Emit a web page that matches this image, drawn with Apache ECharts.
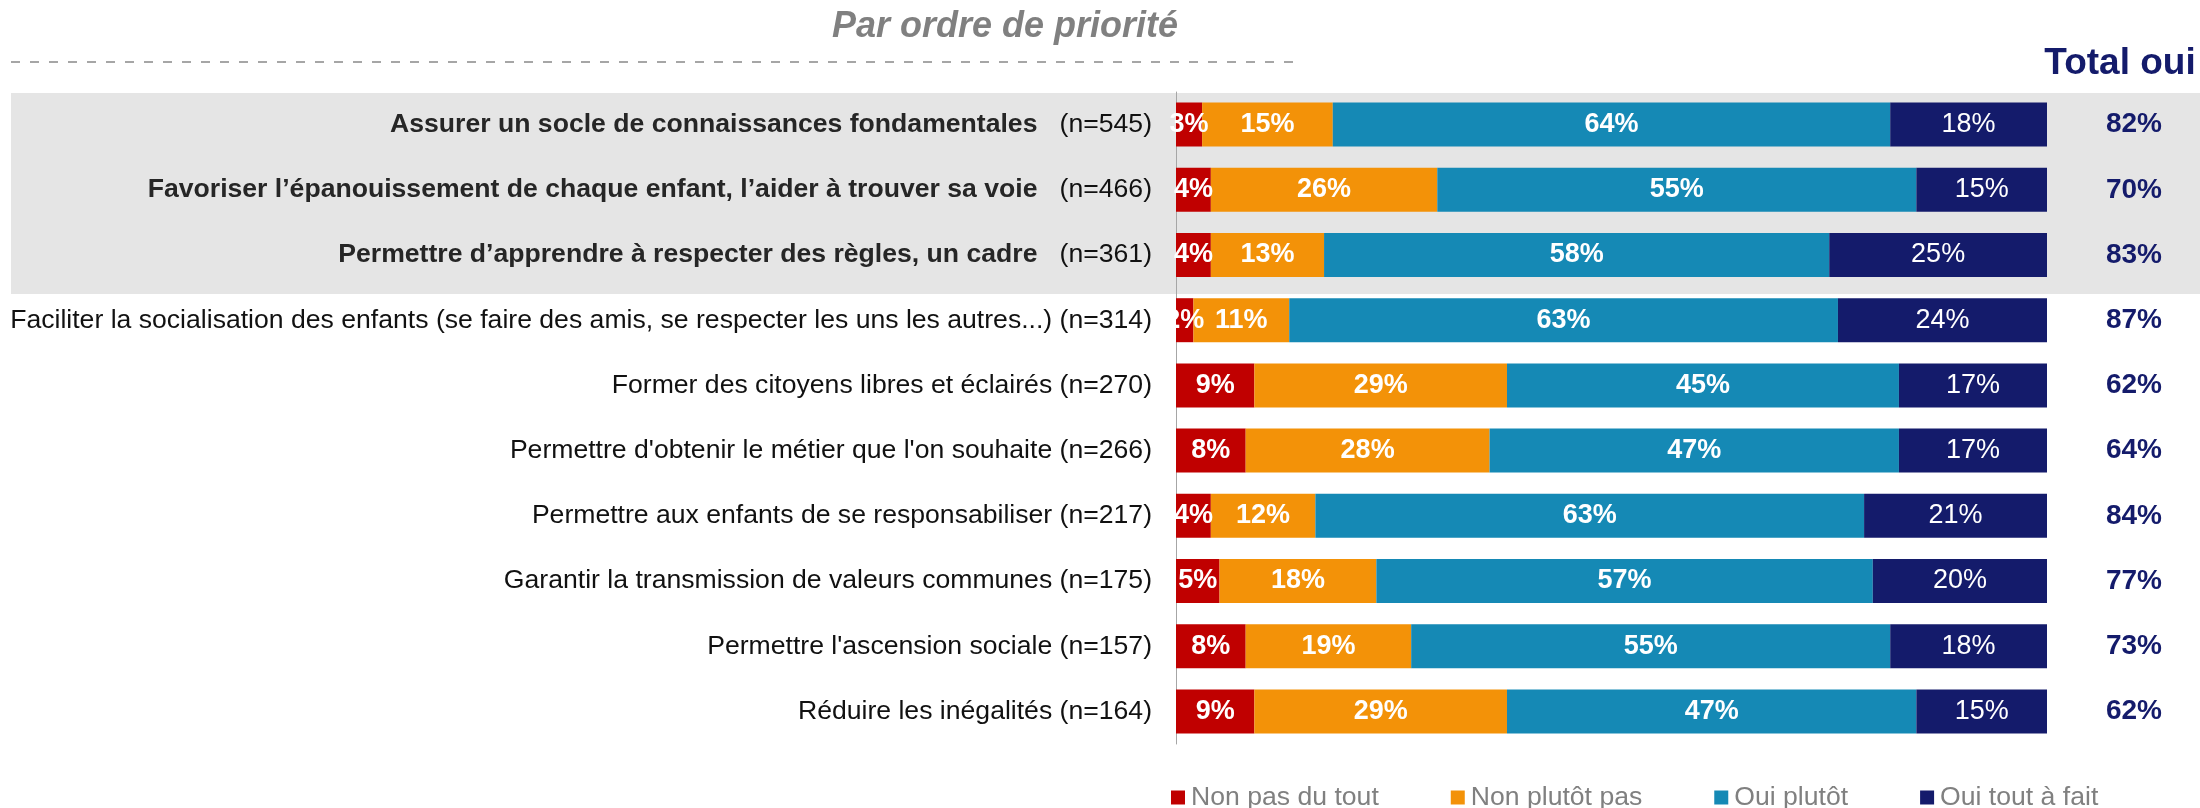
<!DOCTYPE html>
<html>
<head>
<meta charset="utf-8">
<script src="https://cdn.jsdelivr.net/npm/echarts@6/dist/echarts.min.js"></script>
<style>
html,body{margin:0;padding:0;background:#fff;}
#chart{width:2200px;height:808px;}
</style>
</head>
<body>
<div id="chart"></div>
<script>
// ---- Data ----
const categories = [
  "Assurer un socle de connaissances fondamentales",
  "Favoriser l’épanouissement de chaque enfant, l’aider à trouver sa voie",
  "Permettre d’apprendre à respecter des règles, un cadre",
  "Faciliter la socialisation des enfants (se faire des amis, se respecter les uns les autres...)",
  "Former des citoyens libres et éclairés",
  "Permettre d'obtenir le métier que l'on souhaite",
  "Permettre aux enfants de se responsabiliser",
  "Garantir la transmission de valeurs communes",
  "Permettre l'ascension sociale",
  "Réduire les inégalités"
];
const sampleSizes = [545, 466, 361, 314, 270, 266, 217, 175, 157, 164];
const priorityCount = 3;
const seriesNames = ["Non pas du tout", "Non plutôt pas", "Oui plutôt", "Oui tout à fait"];
const nonPasDuTout = [3, 4, 4, 2, 9, 8, 4, 5, 8, 9];
const nonPlutotPas = [15, 26, 13, 11, 29, 28, 12, 18, 19, 29];
const ouiPlutot = [64, 55, 58, 63, 45, 47, 63, 57, 55, 47];
const ouiToutAFait = [18, 15, 25, 24, 17, 17, 21, 20, 18, 15];
const totalOui = [82, 70, 83, 87, 62, 64, 84, 77, 73, 62];
const titleText = "Par ordre de priorité";
const totalTitle = "Total oui";

// ---- Styles ----
const FONT = "'Liberation Sans', Arial, sans-serif";
const colors = ["#C00000", "#F39208", "#1589B5", "#141B6B"];
const NAVY = "#141B6B";
const LABEL_SIZE = 26.6;

const values = [nonPasDuTout, nonPlutotPas, ouiPlutot, ouiToutAFait];

const chart = echarts.init(document.getElementById('chart'), null, {renderer: 'canvas'});

const series = values.map((arr, k) => ({
  name: seriesNames[k],
  type: 'bar',
  stack: 'total',
  barWidth: 44,
  data: arr,
  itemStyle: {color: colors[k]},
  label: {
    show: true,
    position: 'inside',
    formatter: '{c}%',
    color: '#fff',
    fontFamily: FONT,
    fontSize: 27,
    fontWeight: k === 3 ? 'normal' : 'bold'
  },
  emphasis: {disabled: true}
}));

const option = {
  animation: false,
  textStyle: {fontFamily: FONT},
  graphic: [
    {type: 'rect', z: -10, shape: {x: 11, y: 93, width: 2189, height: 201}, style: {fill: '#E5E5E5'}},
    {type: 'line', shape: {x1: 11, y1: 62, x2: 1298, y2: 62},
     style: {stroke: '#A6A6A6', lineWidth: 2, lineDash: [9, 10]}},
    {type: 'text', style: {text: titleText, x: 1005, y: 27, align: 'center', verticalAlign: 'middle',
      font: "italic bold 36px 'Liberation Sans', Arial, sans-serif", fill: '#808080'}},
    {type: 'text', style: {text: totalTitle, x: 2120, y: 64, align: 'center', verticalAlign: 'middle',
      font: "bold 37px 'Liberation Sans', Arial, sans-serif", fill: NAVY}}
  ],
  legend: {
    data: seriesNames,
    left: 1166,
    top: 779,
    itemWidth: 14,
    itemHeight: 14,
    itemGap: 72,
    icon: 'rect',
    textStyle: {color: '#808080', fontSize: LABEL_SIZE, fontFamily: FONT, padding: [0, 0, 0, 1]},
    selectedMode: false
  },
  grid: {left: 1176, top: 92, width: 871, height: 652, containLabel: false},
  xAxis: {type: 'value', min: 0, max: 100, show: false},
  yAxis: [
    {
      type: 'category',
      data: categories,
      inverse: true,
      axisLine: {show: true, lineStyle: {color: '#A6A6A6', width: 1}},
      axisTick: {show: false},
      axisLabel: {
        margin: 24,
        formatter: function (v, i) {
          if (i < priorityCount) return '{b|' + v + '}{n|   (n=' + sampleSizes[i] + ')}';
          return '{n|' + v + ' (n=' + sampleSizes[i] + ')}';
        },
        rich: {
          b: {fontSize: LABEL_SIZE, fontWeight: 'bold', color: '#262626', fontFamily: FONT},
          n: {fontSize: LABEL_SIZE, fontWeight: 'normal', color: '#111', fontFamily: FONT}
        }
      }
    },
    {
      type: 'category',
      data: categories,
      inverse: true,
      position: 'right',
      axisLine: {show: false},
      axisTick: {show: false},
      axisLabel: {
        margin: 87,
        align: 'center',
        formatter: function (v, i) { return totalOui[i] + '%'; },
        fontSize: 28,
        fontWeight: 'bold',
        color: NAVY,
        fontFamily: FONT
      }
    }
  ],
  series: series
};
chart.setOption(option);
</script>
</body>
</html>
